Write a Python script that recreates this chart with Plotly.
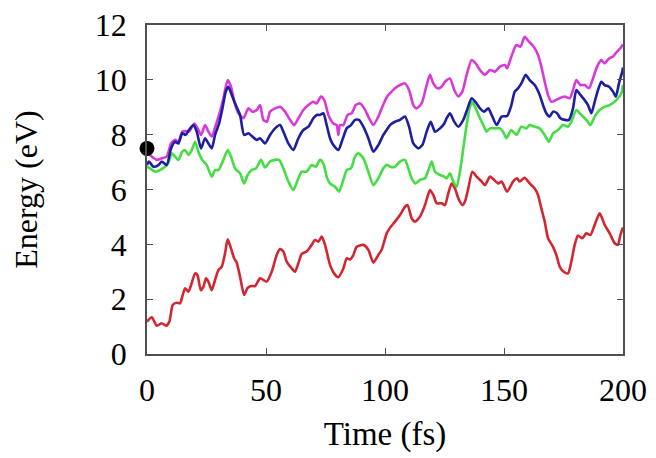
import plotly.graph_objects as go

# ---- data (time in fs, energy in eV) ----
red_t = [0, 2.0, 4.1, 6.2, 8.0, 9.4, 10.8, 12.5, 13.9, 15.0, 16.0, 17.4, 18.4, 20.2, 21.2, 22.6, 23.7,
         24.8, 25.8, 27.2, 28.6, 30.0, 31.4, 32.8, 33.9, 35.3, 36.6, 37.7, 39.1, 40.8, 42.2, 43.6, 45.4,
         47.5, 48.9, 50.3, 52.4, 54.5, 55.9, 57.3, 58.7, 60.8, 62.2, 63.6, 65.0, 67.1, 69.2, 70.6, 72.0,
         73.4, 74.8, 76.9, 78.6, 80.4, 82.5, 83.9, 85.3, 86.7, 88.1, 90.9, 93.0, 95.1, 97.2, 98.6, 100.7,
         102.1, 104.2, 106.3, 108.4, 109.5, 111.2, 112.6, 114.7, 116.8, 118.9, 120.3, 121.7, 123.8, 125.2,
         126.6, 128.0, 129.4, 130.8, 132.5, 133.6, 135.0, 136.7, 138.5, 140.6, 142.0, 144.1, 145.5, 147.6,
         149.0, 151.3, 153.8, 155.5, 156.6, 158.7, 160.8, 162.9, 164.3, 165.7, 167.1, 168.5, 170.6, 172.0,
         173.4, 175.1, 176.9, 178.3, 179.7, 181.1, 182.9, 184.6, 186.3, 188.1, 190.2, 192.3, 194.4, 196.5,
         197.9, 198.9, 200.0]
red_e = [1.18, 1.34, 1.03, 1.12, 1.03, 1.18, 1.79, 1.87, 1.85, 2.15, 2.40, 2.27, 2.48, 2.94, 2.88, 2.33, 2.45,
         2.76, 2.64, 2.33, 2.70, 3.06, 3.18, 3.67, 4.18, 3.85, 3.49, 3.33, 2.82, 2.15, 2.40, 2.48, 2.48,
         2.76, 2.70, 2.64, 3.00, 3.61, 3.83, 3.74, 3.37, 3.12, 3.00, 3.31, 3.65, 3.74, 3.98, 4.16, 4.10,
         4.28, 3.98, 3.25, 2.94, 2.80, 3.12, 3.49, 3.45, 3.61, 3.91, 3.98, 3.80, 3.33, 3.61, 3.80, 4.40,
         4.60, 4.83, 5.07, 5.37, 5.43, 4.95, 4.83, 5.01, 5.43, 5.98, 5.80, 5.50, 5.50, 5.43,
         5.86, 6.22, 6.04, 5.68, 5.43, 5.56, 6.04, 6.65, 6.47, 6.29, 6.16, 6.47, 6.38, 6.22,
         6.29, 5.92, 6.29, 6.41, 6.29, 6.43, 6.22, 6.04, 5.80, 5.31, 4.83, 4.22, 3.91, 3.61,
         3.19, 3.00, 2.94, 3.37, 3.98, 4.32, 4.22, 4.40, 4.34, 4.71, 5.13, 4.71, 4.40, 4.04,
         3.98, 4.34, 4.62]

green_t = [0, 1.3, 3.4, 5.5, 7.6, 9.2, 10.4, 11.8, 13.2, 14.8, 16.0, 17.4, 18.8, 20.2, 21.6, 23.2, 25.1,
           27.2, 28.6, 30.0, 32.1, 33.9, 35.3, 37.0, 39.1, 40.8, 42.3, 44.0, 45.8, 47.9, 49.6, 51.7, 53.8,
           55.5, 57.3, 59.4, 61.5, 63.6, 65.0, 67.1, 69.2, 70.9, 72.7, 74.1, 75.5, 76.9, 79.0, 80.7, 82.5,
           83.9, 85.7, 87.4, 88.8, 90.9, 93.0, 95.1, 97.2, 99.3, 100.9, 102.1, 104.2, 106.3, 108.4, 109.8,
           111.2, 112.9, 114.7, 116.8, 118.5, 119.6, 121.0, 123.1, 124.9, 125.9, 127.3, 128.7, 130.1, 131.5,
           132.9, 134.3, 135.7, 136.7, 138.1, 139.9, 141.3, 142.7, 144.1, 146.2, 148.3, 149.6, 151.0, 153.1,
           155.2, 157.3, 159.4, 160.8, 162.9, 165.0, 167.1, 168.8, 170.6, 172.7, 174.8, 176.9, 178.3, 180.4,
           182.5, 184.6, 186.3, 188.1, 190.2, 192.3, 194.4, 197.2, 199.3, 200.0]
green_e = [6.83, 6.77, 6.65, 6.71, 6.83, 7.02, 7.32, 7.20, 7.08, 7.38, 7.44, 7.26, 7.44, 7.74, 7.38, 7.08, 6.89,
           6.47, 6.71, 6.71, 7.08, 7.44, 7.20, 6.77, 6.59, 6.22, 6.53, 6.71, 6.77, 7.08, 6.80, 7.02, 7.08,
           7.08, 6.77, 6.29, 5.98, 6.41, 6.65, 6.65, 6.89, 6.83, 7.08, 6.95, 6.47, 6.22, 6.10, 5.92, 6.35,
           6.71, 6.77, 7.20, 7.32, 7.14, 6.65, 6.16, 6.41, 6.77, 6.90, 6.83, 6.83, 7.02, 7.08, 6.77,
           6.41, 6.22, 6.35, 6.41, 6.77, 7.02, 6.65, 6.53, 6.47, 6.41, 6.59, 6.29, 6.10, 6.65,
           7.50, 8.35, 9.02, 9.18, 8.96, 8.60, 8.35, 8.11, 8.23, 8.23, 8.23, 8.11, 7.87, 8.17,
           7.99, 8.29, 8.23, 8.35, 8.29, 8.23, 7.99, 7.74, 8.05, 8.17, 8.35, 8.29, 8.47, 8.90,
           8.72, 8.54, 8.35, 8.66, 8.90, 9.02, 9.08, 9.26, 9.51, 9.81]

blue_t = [0, 0.8, 2.7, 4.8, 6.2, 8.3, 10.1, 11.8, 13.2, 14.8, 16.2, 17.6, 19.5, 20.9, 22.7, 24.4, 25.8,
          27.2, 28.6, 30.3, 31.7, 33.1, 34.2, 35.6, 37.3, 39.1, 40.8, 42.6, 44.3, 46.1, 47.5, 49.6, 51.7,
          53.8, 55.9, 57.3, 59.4, 61.5, 63.6, 65.7, 67.8, 69.9, 71.3, 72.7, 74.1, 75.5, 76.9, 78.3, 80.4,
          82.1, 83.9, 85.7, 87.4, 89.1, 90.9, 93.0, 95.1, 97.2, 99.3, 100.9, 102.1, 104.2, 106.3, 108.4,
          110.1, 111.9, 114.0, 115.7, 117.5, 119.2, 121.0, 123.1, 124.9, 125.9, 127.3, 129.1, 130.8, 132.9,
          134.7, 136.4, 138.1, 139.9, 141.6, 143.4, 144.8, 146.9, 149.0, 151.3, 153.1, 154.5, 155.9, 157.3,
          159.1, 160.8, 162.9, 165.0, 166.4, 167.8, 169.2, 170.6, 172.3, 173.7, 175.5, 177.3, 179.0, 180.4,
          182.1, 183.9, 185.3, 186.7, 188.1, 189.5, 190.9, 192.3, 194.1, 195.8, 197.0, 198.3, 199.7, 200.0]
blue_e = [6.89, 7.02, 6.83, 6.89, 7.02, 6.89, 7.50, 7.74, 7.68, 8.05, 7.99, 8.17, 8.35, 8.11, 7.50, 7.87, 7.68,
          7.50, 7.99, 8.41, 8.96, 9.57, 9.75, 9.45, 9.08, 8.72, 7.99, 8.05, 7.93, 7.81, 7.87, 7.68, 7.99,
          8.23, 8.35, 8.11, 7.68, 7.44, 7.87, 8.17, 8.29, 8.60, 8.72, 8.72, 8.78, 8.35, 7.87, 7.62, 7.44,
          7.81, 8.23, 8.35, 8.54, 8.54, 8.29, 7.87, 7.38, 7.62, 7.99, 8.20, 8.35, 8.47, 8.54, 8.66,
          8.29, 7.68, 7.50, 7.62, 8.11, 8.47, 8.11, 8.23, 8.41, 8.60, 8.78, 8.47, 8.29, 8.54,
          8.96, 9.33, 9.18, 8.96, 8.84, 8.96, 8.72, 8.35, 8.66, 8.68, 9.08, 9.57, 9.69, 9.87,
          10.18, 9.99, 9.81, 9.45, 9.08, 8.78, 8.66, 8.84, 8.78, 8.60, 8.54, 8.54, 8.96, 9.63,
          9.45, 9.26, 9.08, 8.78, 9.20, 9.63, 9.93, 9.81, 9.75, 9.57, 9.39, 9.87, 10.30, 10.45]

magenta_t = [0, 0.6, 2.0, 4.1, 6.2, 8.3, 10.1, 11.8, 13.2, 14.8, 16.2, 17.6, 19.9, 21.3, 22.7, 24.4, 25.8,
             27.2, 28.9, 30.3, 32.1, 33.9, 35.3, 36.7, 38.4, 40.5, 42.6, 44.3, 46.1, 47.5, 48.9, 50.4, 51.7,
             53.8, 55.9, 58.0, 60.1, 61.9, 63.6, 65.7, 67.8, 69.9, 71.3, 73.1, 74.5, 76.2, 78.3, 79.7, 80.4,
             81.1, 82.5, 84.3, 86.0, 87.7, 89.5, 91.3, 93.3, 95.1, 97.2, 98.9, 100.9, 102.1, 104.2, 106.3,
             108.4, 110.1, 111.9, 113.3, 115.4, 117.5, 118.9, 120.3, 122.1, 123.8, 125.2, 127.3, 129.1, 130.8,
             132.5, 134.3, 136.4, 138.1, 139.9, 142.0, 144.1, 146.2, 148.3, 150.4, 151.3, 153.1, 155.2, 156.9,
             158.7, 160.5, 162.5, 164.3, 165.7, 167.1, 168.5, 169.9, 171.7, 173.4, 175.5, 177.6, 179.0, 180.4,
             182.1, 183.9, 185.7, 187.4, 189.1, 190.9, 192.3, 194.1, 195.8, 197.5, 198.9, 200.0]
magenta_e = [7.38, 7.32, 7.20, 7.08, 7.14, 7.20, 7.68, 7.81, 7.74, 8.11, 8.13, 8.11, 8.41, 8.23, 7.99, 8.35, 8.11,
             7.93, 8.35, 8.72, 9.33, 9.99, 9.75, 9.20, 8.78, 8.60, 8.96, 8.84, 8.90, 9.08, 8.54, 8.47, 8.84,
             8.96, 9.02, 8.84, 8.54, 8.35, 8.60, 8.90, 9.08, 9.20, 9.14, 9.39, 9.26, 8.72, 8.41, 8.35, 7.99,
             8.35, 8.35, 8.72, 8.78, 9.08, 9.14, 8.96, 8.60, 8.35, 8.66, 9.02, 9.39, 9.51, 9.69, 9.81,
             9.87, 9.63, 9.08, 8.96, 9.14, 9.81, 10.18, 9.87, 9.69, 9.75, 9.93, 10.05, 9.63, 9.39,
             9.57, 10.18, 10.72, 10.60, 10.36, 10.18, 10.36, 10.30, 10.48, 10.54, 10.42, 10.85, 11.27, 11.21,
             11.57, 11.39, 11.21, 10.91, 10.48, 9.93, 9.45, 9.20, 9.26, 9.33, 9.39, 9.33, 9.63, 9.99,
             9.81, 9.81, 9.69, 10.05, 10.48, 10.72, 10.60, 10.78, 10.85, 11.03, 11.15, 11.30]

dot_t = [0]
dot_e = [7.5]

x_ticks = [0, 50, 100, 150, 200]
y_ticks = [0, 2, 4, 6, 8, 10, 12]

FONT = "Liberation Serif, Times New Roman, serif"

fig = go.Figure()
series = [
    (red_t, red_e, "#d42630"),
    (green_t, green_e, "#44dd44"),
    (magenta_t, magenta_e, "#d83ad8"),
    (blue_t, blue_e, "#1e1ea0"),
]
for t, e, c in series:
    fig.add_trace(go.Scatter(x=t, y=e, mode="lines",
                             line=dict(color=c, width=2.6, shape="spline", smoothing=0.6),
                             showlegend=False, hoverinfo="skip"))

fig.add_trace(go.Scatter(x=dot_t, y=dot_e, mode="markers",
                         marker=dict(color="black", size=15),
                         cliponaxis=False, showlegend=False))

axis_common = dict(
    showline=True, linecolor="#505050", linewidth=1.5, mirror="ticks",
    ticks="inside", ticklen=6, tickwidth=1.2, tickcolor="#505050",
    showgrid=False, zeroline=False, ticklabeloverflow="allow",
    tickfont=dict(family=FONT, size=32, color="black"),
)

fig.update_xaxes(range=[0, 200], tickvals=x_ticks, ticklabelstandoff=7,
                 title=dict(text="Time (fs)", font=dict(family=FONT, size=33, color="black"), standoff=15),
                 **axis_common)
fig.update_yaxes(range=[0, 12], tickvals=y_ticks, ticklabelstandoff=12,
                 title=dict(text="Energy (eV)", font=dict(family=FONT, size=32, color="black"), standoff=48),
                 **axis_common)

# page body adds an 8px offset, so the figure is 8px smaller in each direction
fig.update_layout(
    width=648, height=450,
    margin=dict(l=139, r=33, t=17, b=104, autoexpand=False),
    paper_bgcolor="white", plot_bgcolor="white",
)

fig.write_html("out.html")
